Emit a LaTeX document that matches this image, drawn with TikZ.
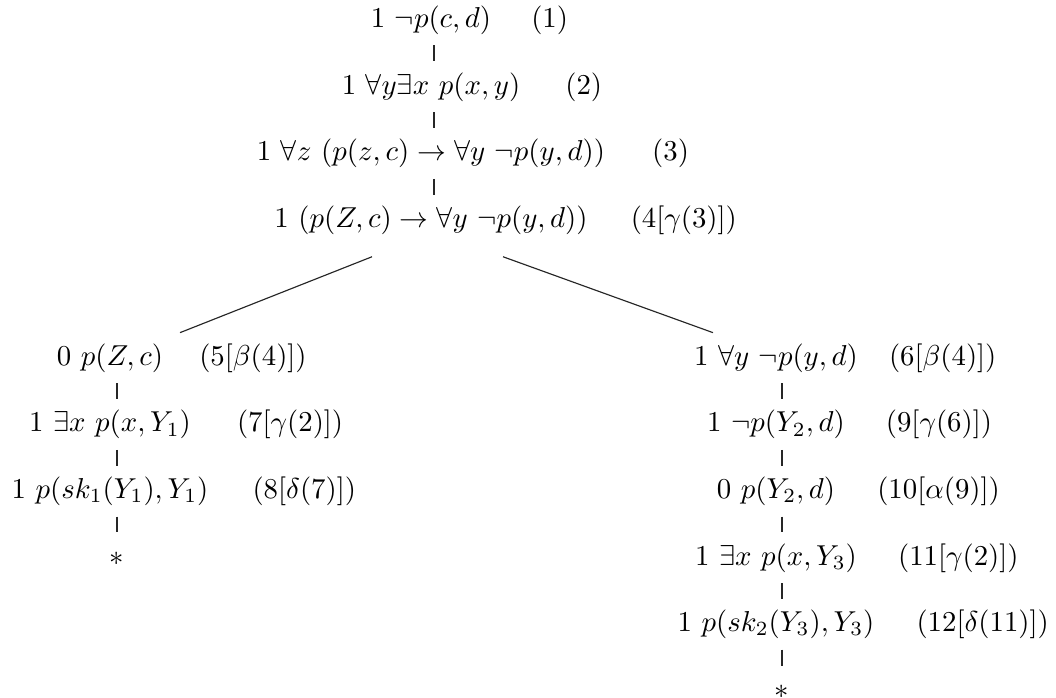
\documentclass[tikz,border=0pt]{standalone}
\usetikzlibrary{calc}
\begin{document}
\begin{tikzpicture}[x=0.34722pt,y=-0.34722pt,
  fm/.style={inner xsep=0pt,inner ysep=3.6pt,text height=7.5pt,text depth=2.5pt},
  lab/.style={inner sep=0pt,text height=7.5pt,text depth=2.5pt,anchor=west},
  edge/.style={line width=0.4pt,draw=black!85}]
\useasboundingbox (0,0) rectangle (1056,698);
% trunk
\node[fm] (n1) at (431,20) {$1\ \neg p(c,d)$};
\node[fm] (n2) at (431,86.8) {$1\ \forall y\exists x\ p(x,y)$};
\node[fm] (n3) at (431,153.6) {$1\ \forall z\ (p(z,c)\rightarrow\forall y\ \neg p(y,d))$};
\node[fm] (n4) at (431,220.4) {$1\ (p(Z,c)\rightarrow\forall y\ \neg p(y,d))$};
% left branch
\node[fm] (n5) at (110,358) {$0\ p(Z,c)$};
\node[fm] (n7) at (110,424.6) {$1\ \exists x\ p(x,Y_1)$};
\node[fm] (n8) at (110,491.2) {$1\ p(sk_1(Y_1),Y_1)$};
\node[fm] (s1) at (117,557.8) {$\ast$};
% right branch
\node[fm] (n6) at (776,358) {$1\ \forall y\ \neg p(y,d)$};
\node[fm] (n9) at (776,424.6) {$1\ \neg p(Y_2,d)$};
\node[fm] (n10) at (776,491.2) {$0\ p(Y_2,d)$};
\node[fm] (n11) at (776,557.8) {$1\ \exists x\ p(x,Y_3)$};
\node[fm] (n12) at (776,624.4) {$1\ p(sk_2(Y_3),Y_3)$};
\node[fm] (s2) at (782,691) {$\ast$};
% labels
\node[lab] (l1) at ($(n1.east)+(39,0)$) {$(1)$};
\node[lab] (l2) at ($(n2.east)+(44,0)$) {$(2)$};
\node[lab] (l3) at ($(n3.east)+(46,0)$) {$(3)$};
\node[lab] (l4) at ($(n4.east)+(42,0)$) {$(4[\gamma(3)])$};
\node[lab] (l5) at ($(n5.east)+(35,0)$) {$(5[\beta(4)])$};
\node[lab] (l7) at ($(n7.east)+(45,0)$) {$(7[\gamma(2)])$};
\node[lab] (l8) at ($(n8.east)+(43,0)$) {$(8[\delta(7)])$};
\node[lab] (l6) at ($(n6.east)+(30,0)$) {$(6[\beta(4)])$};
\node[lab] (l9) at ($(n9.east)+(40,0)$) {$(9[\gamma(6)])$};
\node[lab] (l10) at ($(n10.east)+(41,0)$) {$(10[\alpha(9)])$};
\node[lab] (l11) at ($(n11.east)+(40,0)$) {$(11[\gamma(2)])$};
\node[lab] (l12) at ($(n12.east)+(41,0)$) {$(12[\delta(11)])$};
% trunk edges
\draw[edge] ($(n1.south)+(3,0)$) -- ($(n2.north)+(3,0)$);
\draw[edge] ($(n2.south)+(3,0)$) -- ($(n3.north)+(3,0)$);
\draw[edge] ($(n3.south)+(3,0)$) -- ($(n4.north)+(3,0)$);
% branching
\draw[edge] ($(n4.south)+(-59,11)$) -- ($(n5.north)+(70,0)$);
\draw[edge] ($(n4.south)+(72,11)$) -- ($(n6.north)+(-63,0)$);
% left edges
\draw[edge] ($(n5.south)+(7,0)$) -- ($(n7.north)+(7,0)$);
\draw[edge] ($(n7.south)+(7,0)$) -- ($(n8.north)+(7,0)$);
\draw[edge] ($(n8.south)+(7,0)$) -- (s1.north);
% right edges
\draw[edge] ($(n6.south)+(6,0)$) -- ($(n9.north)+(6,0)$);
\draw[edge] ($(n9.south)+(6,0)$) -- ($(n10.north)+(6,0)$);
\draw[edge] ($(n10.south)+(6,0)$) -- ($(n11.north)+(6,0)$);
\draw[edge] ($(n11.south)+(6,0)$) -- ($(n12.north)+(6,0)$);
\draw[edge] ($(n12.south)+(6,0)$) -- (s2.north);
\end{tikzpicture}
\end{document}
